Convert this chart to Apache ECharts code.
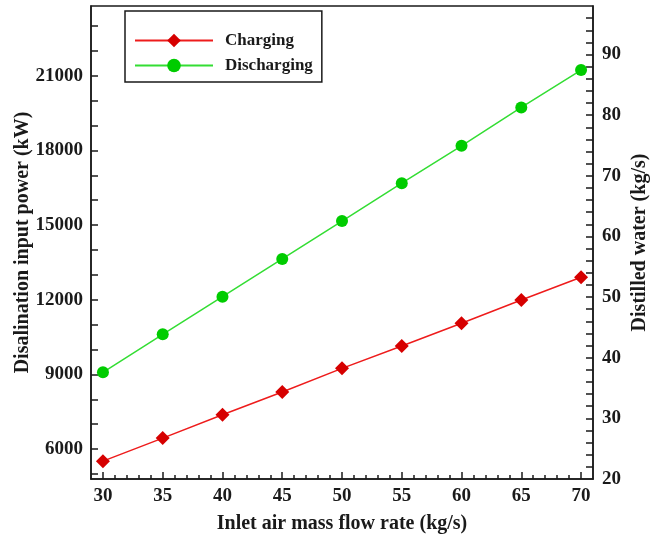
<!DOCTYPE html>
<html>
<head>
<meta charset="utf-8">
<script src="https://cdn.jsdelivr.net/npm/echarts@6/dist/echarts.min.js"></script>
<style>
  html, body { margin: 0; padding: 0; background: #fff; }
  #chart { width: 654px; height: 539px; }
</style>
</head>
<body>
<div id="chart"></div>
<script>
// data
var flowRate = [30, 35, 40, 45, 50, 55, 60, 65, 70]
var charging = [5517, 6442, 7379, 8292, 9245, 10142, 11054, 11991, 12904]
var discharging = [9084, 10612, 12124, 13640, 15160, 16684, 18184, 19724, 21227]

var xLabels = [30, 35, 40, 45, 50, 55, 60, 65, 70]
var xMinorTicks = [31, 32, 33, 34, 36, 37, 38, 39, 41, 42, 43, 44, 46, 47, 48, 49, 51, 52, 53, 54, 56, 57, 58, 59, 61, 62, 63, 64, 66, 67, 68, 69]
var leftLabels = [6000, 9000, 12000, 15000, 18000, 21000]
var leftTicks = [5000, 6000, 7000, 8000, 9000, 10000, 11000, 12000, 13000, 14000, 15000, 16000, 17000, 18000, 19000, 20000, 21000, 22000, 23000]
var rightLabels = [20, 30, 40, 50, 60, 70, 80, 90]
var rightTicks = [22, 24, 26, 28, 30, 32, 34, 36, 38, 40, 42, 44, 46, 48, 50, 52, 54, 56, 58, 60, 62, 64, 66, 68, 70, 72, 74, 76, 78, 80, 82, 84, 86, 88, 90, 92, 94, 96]

var font = 'Liberation Serif'
var ink = '#1a1a1a'

var labelStyle = { fontFamily: font, fontWeight: 'bold', fontSize: 19, color: ink }
var nameStyle = { fontFamily: font, fontWeight: 'bold', fontSize: 20, color: ink }

var chart = echarts.init(document.getElementById('chart'), null, { renderer: 'canvas' })

var option = {
  backgroundColor: '#fff',
  animation: false,
  grid: {
    left: 91, right: 61, top: 6, bottom: 60,
    show: true, borderColor: ink, borderWidth: 1.5,
    containLabel: false,
    outerBoundsMode: 'none'
  },
  legend: {
    left: 125, top: 11,
    orient: 'vertical',
    padding: [21, 9, 8, 9],
    itemWidth: 78, itemHeight: 17, itemGap: 8,
    borderColor: ink, borderWidth: 1.5,
    textStyle: { fontFamily: font, fontWeight: 'bold', fontSize: 17, color: ink, padding: [0, 0, 0, 7] },
    data: ['Charging', 'Discharging']
  },
  xAxis: [
    {
      type: 'value', min: 29, max: 71, position: 'bottom',
      name: 'Inlet air mass flow rate (kg/s)',
      nameLocation: 'middle', nameGap: 35, nameTextStyle: nameStyle,
      axisLine: { show: true, lineStyle: { color: ink, width: 1.5 } },
      axisTick: { show: true, inside: true, length: 7, customValues: xLabels, lineStyle: { color: ink, width: 1.5 } },
      axisLabel: { margin: 8, customValues: xLabels, ...labelStyle },
      splitLine: { show: false }
    },
    {
      type: 'value', min: 29, max: 71, position: 'bottom',
      axisLine: { show: false },
      axisTick: { show: true, inside: true, length: 4, customValues: xMinorTicks, lineStyle: { color: ink, width: 1.5 } },
      axisLabel: { show: false },
      splitLine: { show: false }
    }
  ],
  yAxis: [
    {
      type: 'value', min: 4800, max: 23800, position: 'left',
      name: 'Disalination input power (kW)',
      nameLocation: 'middle', nameGap: 58, nameMoveOverlap: false, nameTextStyle: nameStyle,
      axisLine: { show: true, lineStyle: { color: ink, width: 1.5 } },
      axisTick: { show: true, inside: true, length: 7, customValues: leftTicks, lineStyle: { color: ink, width: 1.5 } },
      axisLabel: { margin: 8, customValues: leftLabels, formatter: function (v) { return String(v) }, ...labelStyle },
      splitLine: { show: false }
    },
    {
      type: 'value', min: 20, max: 98, position: 'right',
      name: 'Distilled water (kg/s)',
      nameLocation: 'middle', nameGap: 37, nameMoveOverlap: false, nameTextStyle: nameStyle,
      axisLine: { show: true, lineStyle: { color: ink, width: 1.5 } },
      axisTick: { show: true, inside: true, length: 7, customValues: rightTicks, lineStyle: { color: ink, width: 1.5 } },
      axisLabel: { margin: 9, customValues: rightLabels, ...labelStyle },
      splitLine: { show: false }
    }
  ],
  series: [
    {
      name: 'Charging',
      type: 'line',
      xAxisIndex: 0, yAxisIndex: 0,
      data: flowRate.map(function (x, i) { return [x, charging[i]] }),
      symbol: 'diamond', symbolSize: 14,
      lineStyle: { color: '#ee1c1c', width: 1.5 },
      itemStyle: { color: '#d60000' }
    },
    {
      name: 'Discharging',
      type: 'line',
      xAxisIndex: 0, yAxisIndex: 0,
      data: flowRate.map(function (x, i) { return [x, discharging[i]] }),
      symbol: 'circle', symbolSize: 12,
      lineStyle: { color: '#33dd33', width: 1.5 },
      itemStyle: { color: '#00cc00' }
    }
  ]
}

chart.setOption(option)
</script>
</body>
</html>
